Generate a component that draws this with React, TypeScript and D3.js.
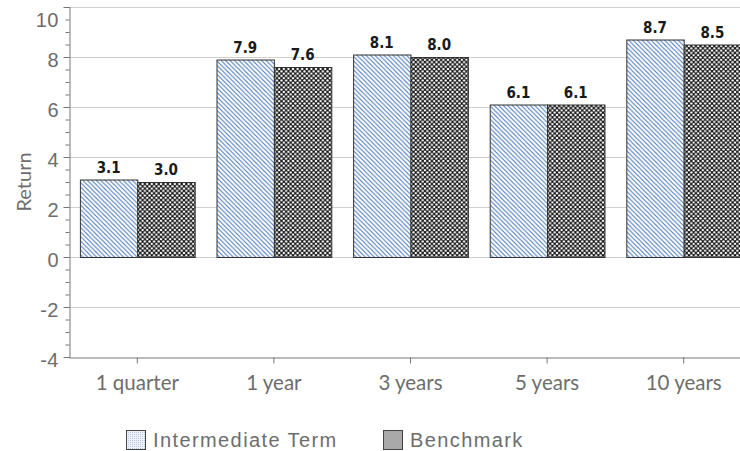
import React, { useRef, useEffect } from 'react';
import * as d3 from 'd3';

const categories = ['1 quarter', '1 year', '3 years', '5 years', '10 years'];
const seriesNames = ['Intermediate Term', 'Benchmark'];
const intermediate = [3.1, 7.9, 8.1, 6.1, 8.7];
const benchmark = [3.0, 7.6, 8.0, 6.1, 8.5];
const yTicks = [-4, -2, 0, 2, 4, 6, 8, 10];

const App = () => {
  const svgRef = useRef<SVGSVGElement>(null);

  useEffect(() => {
    const svg = d3.select(svgRef.current);
    svg.selectAll('*').remove();

    const width = 740;
    const height = 451;
    const margin = { top: 7, right: -12, bottom: 94, left: 69 };

    svg.attr('width', width).attr('height', height);

    const defs = svg.append('defs');
    const hatch = defs.append('pattern')
      .attr('id', 'hatch')
      .attr('patternUnits', 'userSpaceOnUse')
      .attr('width', 4.5).attr('height', 4.5);
    hatch.append('rect').attr('width', 4.5).attr('height', 4.5).attr('fill', '#fff');
    hatch.append('path')
      .attr('d', 'M-1,-1 L5.5,5.5 M3.5,-1 L5.5,1 M-1,3.5 L1,5.5')
      .attr('stroke', '#4a78ba').attr('stroke-width', 1.1);

    const cross = defs.append('pattern')
      .attr('id', 'cross')
      .attr('patternUnits', 'userSpaceOnUse')
      .attr('width', 4.6).attr('height', 4.6);
    cross.append('rect').attr('width', 4.6).attr('height', 4.6).attr('fill', '#111');
    [[0, 0], [4.6, 0], [0, 4.6], [4.6, 4.6], [2.3, 2.3]].forEach(([cx, cy]) => {
      cross.append('circle').attr('cx', cx).attr('cy', cy).attr('r', 1.25).attr('fill', '#fff');
    });

    const dots = defs.append('pattern')
      .attr('id', 'dots')
      .attr('patternUnits', 'userSpaceOnUse')
      .attr('width', 2).attr('height', 2);
    dots.append('rect').attr('width', 2).attr('height', 2).attr('fill', '#eef3fa');
    dots.append('rect').attr('width', 1).attr('height', 1).attr('fill', '#b7c9e2');

    const data = categories.map((c, i) => ({ cat: c, values: [intermediate[i], benchmark[i]] }));

    const x0 = d3.scaleBand()
      .domain(categories)
      .range([margin.left, width - margin.right])
      .padding(0);

    const x1 = d3.scaleBand()
      .domain(seriesNames)
      .range([0, x0.bandwidth()])
      .paddingInner(0)
      .paddingOuter(0.19);

    const y = d3.scaleLinear()
      .domain([-4, 10])
      .range([height - margin.bottom, margin.top]);

    // gridlines
    svg.append('g')
      .selectAll('line')
      .data(yTicks.filter(t => t !== -4))
      .join('line')
      .attr('x1', margin.left)
      .attr('x2', width)
      .attr('y1', d => y(d) + 0.5)
      .attr('y2', d => y(d) + 0.5)
      .attr('stroke', '#cfcfcf')
      .attr('stroke-width', 1);

    // y axis
    const yAxis = svg.append('g')
      .attr('transform', `translate(${margin.left + 0.5},0)`)
      .call(d3.axisLeft(y).tickValues(d3.range(-4, 10.01, 0.5)).tickSize(4).tickFormat(() => ''));
    yAxis.select('.domain').attr('stroke', '#777');
    yAxis.selectAll('.tick line').attr('stroke', '#777');
    yAxis.selectAll('.tick')
      .filter((d: any) => yTicks.includes(d))
      .select('line').attr('x2', -6);

    svg.append('g')
      .selectAll('text')
      .data(yTicks)
      .join('text')
      .attr('x', 59)
      .attr('y', d => d === 10 ? y(d) + 13 : y(d) + 3)
      .attr('dy', '0.35em')
      .attr('text-anchor', 'end')
      .attr('font-family', 'Liberation Sans, Arial, sans-serif')
      .attr('font-size', 20)
      .attr('letter-spacing', 0.5)
      .attr('fill', '#6d6d6d')
      .text(d => d);

    // x axis
    const xAxis = svg.append('g')
      .attr('transform', `translate(0,${y(-4) + 0.5})`)
      .call(d3.axisBottom(x0).tickSize(6).tickSizeOuter(0).tickFormat(() => ''));
    xAxis.select('.domain').attr('stroke', '#777');
    xAxis.selectAll('.tick line').attr('stroke', '#777');

    svg.append('g')
      .selectAll('text')
      .data(categories)
      .join('text')
      .attr('x', d => (x0(d) as number) + x0.bandwidth() / 2)
      .attr('y', y(-4) + 33)
      .attr('text-anchor', 'middle')
      .attr('font-family', 'Lato, sans-serif')
      .attr('font-size', 20.5)
      .attr('fill', '#6d6d6d')
      .text(d => d);

    // y title
    svg.append('text')
      .attr('transform', `translate(31,${(y(-4) + y(10)) / 2}) rotate(-90)`)
      .attr('text-anchor', 'middle')
      .attr('font-family', 'Lato, sans-serif')
      .attr('font-size', 20)
      .attr('fill', '#6d6d6d')
      .text('Return');

    // bars
    const fills = ['url(#hatch)', 'url(#cross)'];
    const groups = svg.append('g')
      .selectAll('g')
      .data(data)
      .join('g')
      .attr('transform', d => `translate(${x0(d.cat)},0)`);

    groups.selectAll('rect')
      .data(d => d.values.map((v, i) => ({ key: seriesNames[i], v, i })))
      .join('rect')
      .attr('x', d => (x1(d.key) as number) + 0.5)
      .attr('y', d => y(d.v) + 0.5)
      .attr('width', x1.bandwidth())
      .attr('height', d => y(0) - y(d.v))
      .attr('fill', d => fills[d.i])
      .attr('stroke', '#333')
      .attr('stroke-width', 1);

    groups.selectAll('text')
      .data(d => d.values.map((v, i) => ({ key: seriesNames[i], v })))
      .join('text')
      .attr('x', d => (x1(d.key) as number) + x1.bandwidth() / 2)
      .attr('y', d => y(d.v) - 7)
      .attr('text-anchor', 'middle')
      .attr('font-family', 'DejaVu Sans Condensed, sans-serif')
      .attr('font-stretch', 'condensed')
      .attr('font-weight', 'bold')
      .attr('font-size', 15)
      .attr('fill', '#1a1a1a')
      .text(d => d.v.toFixed(1));

    // legend
    const legendX = [126, 383];
    const legendFills = ['url(#dots)', '#a9a9a9'];
    const legend = svg.append('g')
      .selectAll('g')
      .data(seriesNames)
      .join('g')
      .attr('transform', (d, i) => `translate(${legendX[i]},430)`);
    legend.append('rect')
      .attr('x', 0.5).attr('y', 0.5)
      .attr('width', 19).attr('height', 19)
      .attr('fill', (d, i) => legendFills[i])
      .attr('stroke', '#444');
    legend.append('text')
      .attr('x', 27)
      .attr('y', 17)
      .attr('font-family', 'Liberation Sans, Arial, sans-serif')
      .attr('font-size', 20)
      .attr('letter-spacing', 1.4)
      .attr('fill', '#6d6d6d')
      .text(d => d);
  }, []);

  return (
    <div style={{ position: 'absolute', left: 0, top: 0 }}>
      <svg ref={svgRef}></svg>
    </div>
  );
};

export default App;
